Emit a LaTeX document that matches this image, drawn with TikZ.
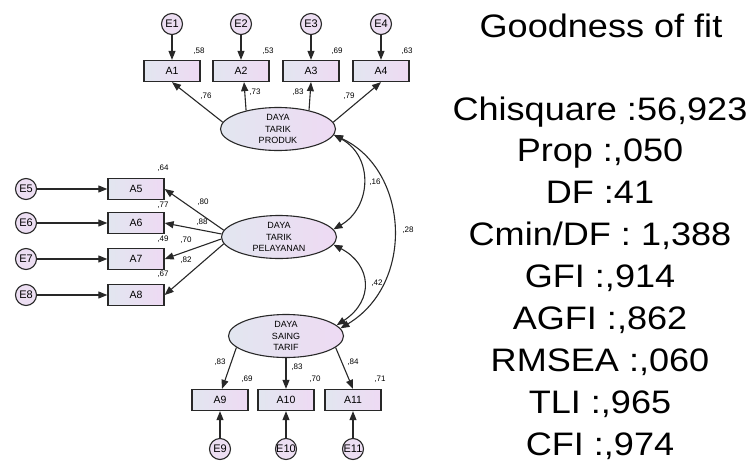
\documentclass[tikz,border=0pt]{standalone}
\usepackage{fontspec}
\setmainfont{Liberation Sans}
\usetikzlibrary{arrows.meta,shapes.geometric}

\definecolor{linec}{RGB}{40,40,40}
\definecolor{fillL}{RGB}{226,230,240}
\definecolor{fillR}{RGB}{238,218,243}
\definecolor{errfill}{RGB}{236,222,242}

\tikzset{
  obs/.style={rectangle, draw=linec, line width=1.3pt, left color=fillL, right color=fillR,
    minimum width=56pt, minimum height=21pt, inner sep=0pt, font=\fontsize{10.5}{12}\selectfont},
  lat/.style={ellipse, draw=linec, line width=1.1pt, left color=fillL, right color=fillR,
    minimum width=115pt, minimum height=43pt, inner sep=0pt, align=center,
    font=\fontsize{9}{11.5}\selectfont},
  err/.style={circle, draw=linec, line width=1.1pt, fill=errfill, minimum size=21pt,
    inner sep=0pt, font=\fontsize{11}{12}\selectfont},
  load/.style={-{Triangle[length=9pt,width=7pt]}, line width=1.1pt, draw=linec},
  corr/.style={{Triangle[length=9pt,width=7pt]}-{Triangle[length=9pt,width=7pt]},
    line width=1.1pt, draw=linec},
  est/.style={inner sep=0pt, font=\fontsize{8}{9}\selectfont},
  fitline/.style={anchor=base, inner sep=0pt, font=\fontsize{32.5}{40}\selectfont},
}

\newcommand{\wide}[1]{\scalebox{1.11}[1]{#1}}

\begin{document}
\begin{tikzpicture}[x=1pt,y=-1pt]
\useasboundingbox (0,0) rectangle (750,461);

% latent variables
\node[lat] (prod)  at (278,129) {DAYA\\TARIK\\PRODUK};
\node[lat] (pel)   at (279,237) {DAYA\\TARIK\\PELAYANAN};
\node[lat] (saing) at (286,336) {DAYA\\SAING\\TARIF};

% indicators of DAYA TARIK PRODUK
\foreach \i/\x in {1/172,2/241,3/311,4/381}{
  \node[obs] (A\i) at (\x,71) {A\i};
  \node[err] (E\i) at (\x,24) {E\i};
  \draw[load] (E\i) -- (A\i);
}
% indicators of DAYA TARIK PELAYANAN
\foreach \i/\y in {5/189,6/223,7/259,8/295}{
  \node[obs] (A\i) at (136,\y) {A\i};
  \node[err] (E\i) at (26,\y) {E\i};
  \draw[load] (E\i) -- (A\i);
}
% indicators of DAYA SAING TARIF
\foreach \i/\x in {9/220,10/286,11/353}{
  \node[obs] (A\i) at (\x,400) {A\i};
  \node[err] (E\i) at (\x,449) {E\i};
  \draw[load] (E\i) -- (A\i);
}

% factor loadings
\draw[load] (prod.173) -- (A1.south);
\draw[load] (prod.150) -- ([xshift=3pt]A2.south);
\draw[load] (prod.31)  -- (A3.south);
\draw[load] (prod.7)   -- (A4.south);

\draw[load] (pel.173) -- (A5.east);
\draw[load] (pel.177) -- (A6.east);
\draw[load] (pel.182) -- (A7.east);
\draw[load] (pel.187) -- (A8.east);

\draw[load] (saing.193) -- ([xshift=2pt]A9.north);
\draw[load] (saing.270) -- (A10.north);
\draw[load] (saing.347) -- (A11.north);

% correlations between latent variables
\draw[corr] (prod.-6) .. controls +(40,22) and +(38,-22) .. (pel.8);
\draw[corr] (pel.-8) .. controls +(38,20) and +(38,-25) .. (saing.12);
\draw[corr] (prod.-6) .. controls +(75,35) and +(75,-45) .. (saing.8);

% estimates
\node[est] (r1) at (199,51) {,58};
\node[est] (r2) at (268,51) {,53};
\node[est] (r3) at (337,51) {,69};
\node[est] (r4) at (407,51) {,63};
\node[est] (l1) at (206,96) {,76};
\node[est] (l2) at (255,92) {,73};
\node[est] (l3) at (298,92) {,83};
\node[est] (l4) at (349,96) {,79};

\node[est] (r5) at (163,168) {,64};
\node[est] (r6) at (163,205) {,77};
\node[est] (r7) at (163,239) {,49};
\node[est] (r8) at (163,274) {,67};
\node[est] (l5) at (203,202) {,80};
\node[est] (l6) at (202,222) {,88};
\node[est] (l7) at (186,240) {,70};
\node[est] (l8) at (186,260) {,82};

\node[est] (l9)  at (220,362) {,83};
\node[est] (l10) at (297,367) {,83};
\node[est] (l11) at (353,362) {,84};
\node[est] (r9)  at (247,379) {,69};
\node[est] (r10) at (315,379) {,70};
\node[est] (r11) at (380,379) {,71};

\node[est] (c1) at (375,182) {,16};
\node[est] (c2) at (377,283) {,42};
\node[est] (c3) at (408,230) {,28};

% goodness of fit summary
\node[fitline] (gtitle) at (601,37) {\wide{Goodness of fit}};
\foreach \k/\t in {0/{Chisquare :56,923},1/{Prop :,050},2/{DF :41},3/{Cmin/DF : 1,388},
    4/{GFI :,914},5/{AGFI :,862},6/{RMSEA :,060},7/{TLI :,965},8/{CFI :,974}}{
  \node[fitline] (g\k) at (600,120+41.9*\k) {\wide{\t}};
}
\end{tikzpicture}
\end{document}
